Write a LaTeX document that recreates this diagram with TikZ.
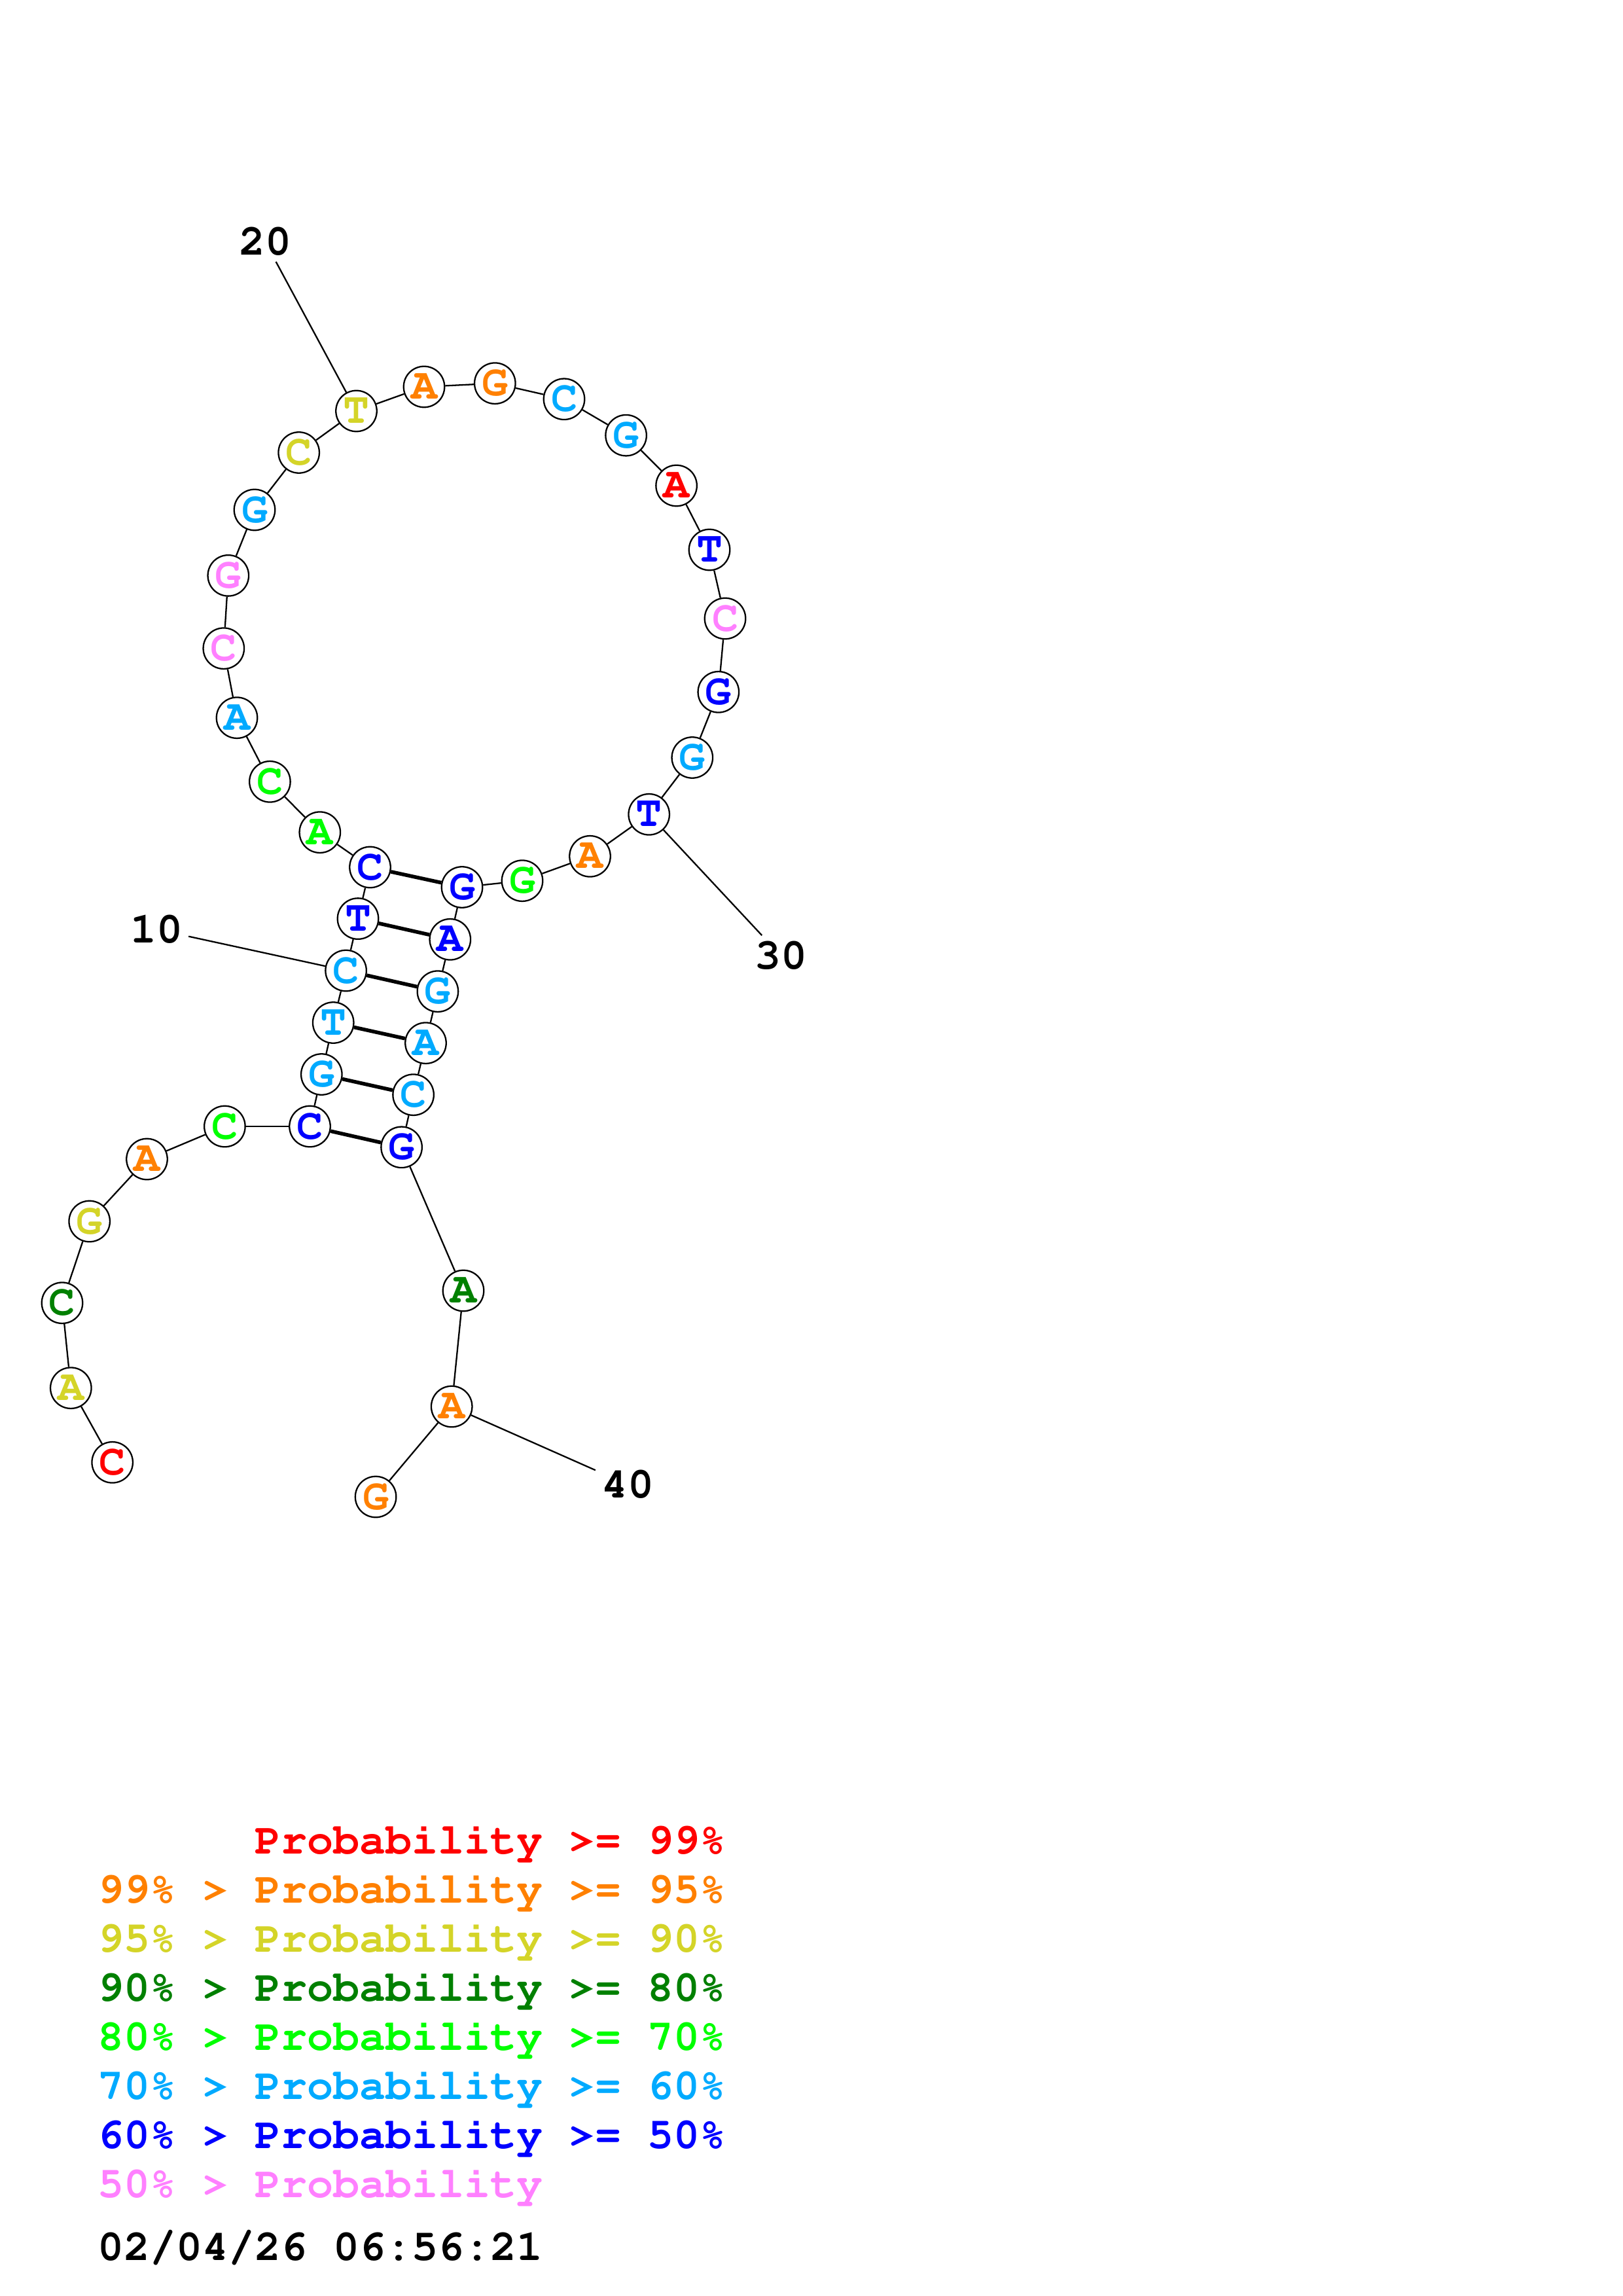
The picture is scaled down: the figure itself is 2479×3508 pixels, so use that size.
\documentclass[tikz,border=0pt]{standalone}
\usepackage[T1]{fontenc}
\usepackage{courier}
\definecolor{cred}{RGB}{255,0,0}
\definecolor{corg}{RGB}{255,128,0}
\definecolor{cyel}{RGB}{212,212,40}
\definecolor{cdkg}{RGB}{0,128,0}
\definecolor{cgrn}{RGB}{0,255,0}
\definecolor{clb}{RGB}{0,170,255}
\definecolor{cblu}{RGB}{0,0,255}
\definecolor{cpink}{RGB}{255,128,255}
\newcommand\ntfont{\fontsize{16}{18}\selectfont\ttfamily\bfseries}
\begin{document}
\begin{tikzpicture}[x=0.24pt,y=-0.24pt,
  nt/.style={circle,draw=black,line width=0.55pt,fill=white,minimum size=15pt,inner sep=0pt,font=\ntfont},
  bb/.style={line width=0.55pt},
  bp/.style={line width=1.35pt},
  lbl/.style={font=\ntfont,inner sep=2pt},
  leg/.style={anchor=base west,inner sep=0pt,font=\ntfont}]
\useasboundingbox[fill=white] (0,0) rectangle (2479,3508);
\foreach \i/\x/\y/\c/\l in {
 1/171.7/2234.3/cred/C, 2/108.3/2120.7/cyel/A, 3/95/1990.7/cdkg/C, 4/136.7/1866/cyel/G,
 5/224.5/1771/corg/A, 6/343.4/1721/cgrn/C, 7/473.5/1721/cblu/C, 8/491.3/1641.5/clb/G,
 9/509.2/1562.5/clb/T, 10/528.6/1483/clb/C, 11/547/1403.6/cblu/T, 12/565.5/1325/cblu/C,
 13/488.8/1271.7/cgrn/A, 14/412.4/1194.3/cgrn/C, 15/362/1096.7/clb/A, 16/341.8/990.7/cpink/C,
 17/348.8/879.4/cpink/G, 18/389/779/clb/G, 19/456.7/691.5/cyel/C, 20/544.5/628/cyel/T,
 21/648/591/corg/A, 22/756.3/585.7/corg/G, 23/862/609.8/clb/C, 24/956.6/665.2/clb/G,
 25/1033.6/742/cred/A, 26/1084/840/cblu/T, 27/1108/945/cpink/C, 28/1097.8/1057.3/cblu/G,
 29/1057.8/1157.5/clb/G, 30/991.7/1244.3/cblu/T, 31/901.5/1308.3/corg/A, 32/798/1345.7/cgrn/G,
 33/706/1355.5/cblu/G, 34/687.8/1435.3/cblu/A, 35/668.9/1514.7/clb/G, 36/650.5/1593.7/clb/A,
 37/631.6/1672.7/clb/C, 38/613.6/1752.8/cblu/G, 39/708/1972/cdkg/A, 40/690.2/2149/corg/A,
 41/574.1/2287/corg/G}
  \node[nt,text=\c] (n\i) at (\x,\y) {\l};
\foreach \i in {1,...,40}{\pgfmathtruncatemacro\j{\i+1}\draw[bb] (n\i) -- (n\j);}
\foreach \a/\b in {7/38,8/37,9/36,10/35,11/34,12/33}
  \draw[bp] (n\a) -- (n\b);
\node[lbl] (l10) at (239,1420) {10};
\node[lbl] (l20) at (405,369) {20};
\node[lbl] (l30) at (1193,1460) {30};
\node[lbl] (l40) at (959,2268) {40};
\draw[bb] (l10) -- (n10);
\draw[bb] (l20) -- (n20);
\draw[bb] (l30) -- (n30);
\draw[bb] (l40) -- (n40);
\node[leg,text=cred]  (g1) at (149,2832) {\phantom{99\% > }Probability >= 99\%};
\node[leg,text=corg]  (g2) at (149,2907) {99\% > Probability >= 95\%};
\node[leg,text=cyel]  (g3) at (149,2982) {95\% > Probability >= 90\%};
\node[leg,text=cdkg]  (g4) at (149,3057) {90\% > Probability >= 80\%};
\node[leg,text=cgrn]  (g5) at (149,3132) {80\% > Probability >= 70\%};
\node[leg,text=clb]   (g6) at (149,3207) {70\% > Probability >= 60\%};
\node[leg,text=cblu]  (g7) at (149,3282) {60\% > Probability >= 50\%};
\node[leg,text=cpink] (g8) at (149,3357) {50\% > Probability};
\node[leg,text=black] (g9) at (149,3453) {02/04/26 06:56:21};
\end{tikzpicture}
\end{document}
